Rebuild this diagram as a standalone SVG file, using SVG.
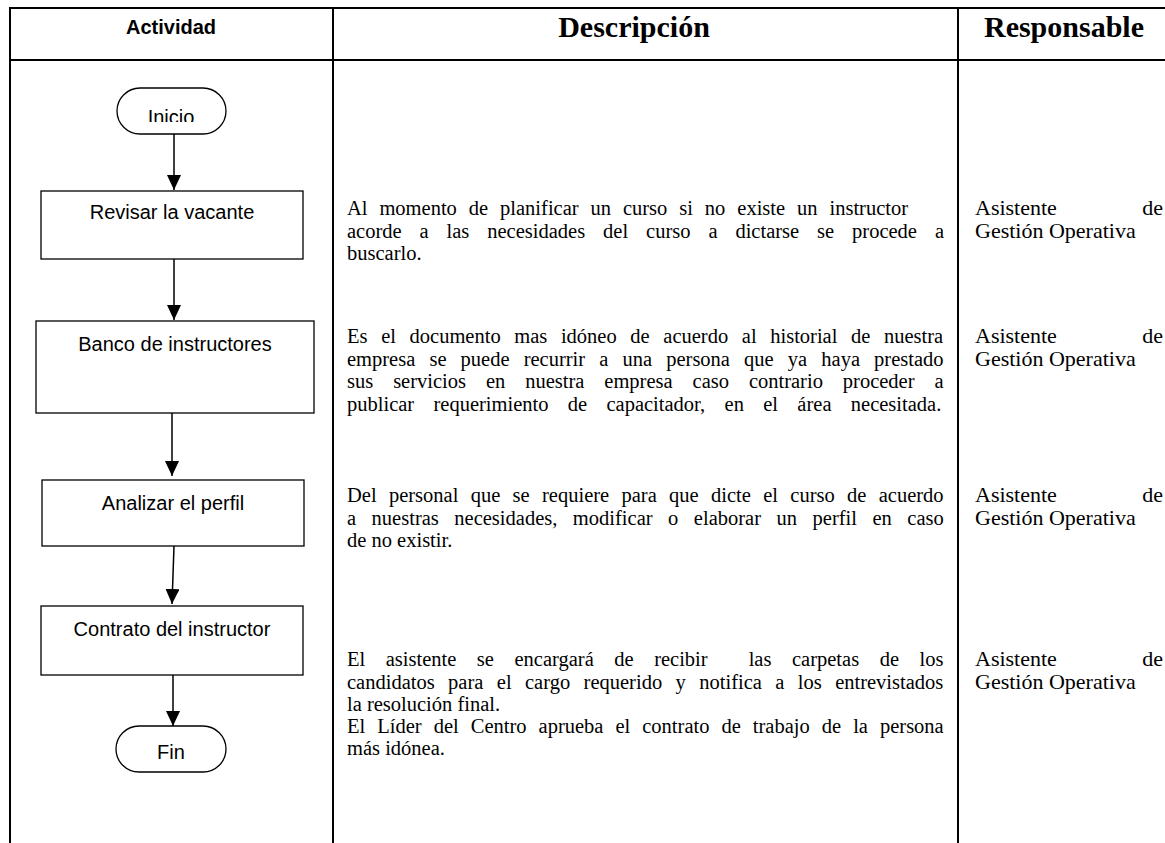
<svg xmlns="http://www.w3.org/2000/svg" width="1165" height="843" viewBox="0 0 1165 843">
  <style>
    .grid { stroke: #000; stroke-width: 2; fill: none; }
    .box { fill: #fff; stroke: #000; stroke-width: 1.3; }
    .lbl { font-family: "Liberation Sans", Arial, sans-serif; font-size: 20px; fill: #000; text-anchor: middle; }
    .hdr-a { font-family: "Liberation Sans", Arial, sans-serif; font-size: 20px; font-weight: bold; text-anchor: middle; }
    .hdr-t { font-family: "Liberation Serif", "Times New Roman", serif; font-size: 30px; font-weight: bold; text-anchor: middle; }
    .desc { font-family: "Liberation Serif", "Times New Roman", serif; font-size: 20.5px; fill: #000; }
    .resp { font-family: "Liberation Serif", "Times New Roman", serif; font-size: 22px; fill: #000; }
    .conn { stroke: #000; stroke-width: 1.5; fill: none; }
  </style>
  <defs>
    <marker id="arrow" viewBox="0 0 15 14" refX="15" refY="7" markerWidth="15" markerHeight="14" markerUnits="userSpaceOnUse" orient="auto">
      <path d="M0,0 L15,7 L0,14 Z" fill="#000"/>
    </marker>
    <clipPath id="clip-inicio">
      <rect x="117" y="88" width="109" height="34"/>
    </clipPath>
  </defs>

  <rect width="1165" height="843" fill="#fff"/>

  <!-- table grid -->
  <g id="table">
    <line class="grid" x1="10" y1="8" x2="1165" y2="8"/>
    <line class="grid" x1="10" y1="60" x2="1165" y2="60"/>
    <line class="grid" x1="10" y1="7" x2="10" y2="843"/>
    <line class="grid" x1="333" y1="7" x2="333" y2="843"/>
    <line class="grid" x1="958" y1="7" x2="958" y2="843"/>
    <text class="hdr-a" x="171" y="34">Actividad</text>
    <text class="hdr-t" x="634" y="37">Descripción</text>
    <text class="hdr-t" x="1064" y="37">Responsable</text>
  </g>

  <!-- connectors -->
  <g id="connectors">
    <line class="conn" x1="174" y1="134" x2="174" y2="190" marker-end="url(#arrow)"/>
    <line class="conn" x1="174" y1="259" x2="174" y2="320" marker-end="url(#arrow)"/>
    <line class="conn" x1="172" y1="411" x2="172" y2="476" marker-end="url(#arrow)"/>
    <line class="conn" x1="174" y1="546" x2="172" y2="604" marker-end="url(#arrow)"/>
    <line class="conn" x1="173" y1="675" x2="173" y2="726" marker-end="url(#arrow)"/>
  </g>

  <!-- flow nodes -->
  <g id="node-inicio">
    <rect class="box" x="117" y="88" width="109" height="46" rx="23" ry="23"/>
    <text class="lbl" x="171" y="124" clip-path="url(#clip-inicio)">Inicio</text>
  </g>
  <g id="node-revisar">
    <rect class="box" x="41" y="191" width="262" height="68"/>
    <text class="lbl" x="172" y="219">Revisar la vacante</text>
  </g>
  <g id="node-banco">
    <rect class="box" x="36" y="321" width="278" height="92"/>
    <text class="lbl" x="175" y="351">Banco de instructores</text>
  </g>
  <g id="node-analizar">
    <rect class="box" x="42" y="480" width="262" height="66"/>
    <text class="lbl" x="173" y="510">Analizar el perfil</text>
  </g>
  <g id="node-contrato">
    <rect class="box" x="41" y="606" width="262" height="69"/>
    <text class="lbl" x="172" y="636">Contrato del instructor</text>
  </g>
  <g id="node-fin">
    <rect class="box" x="116" y="726" width="110" height="46" rx="23" ry="23"/>
    <text class="lbl" x="171" y="759">Fin</text>
  </g>

  <!-- description column (justified lines use word spacing) -->
  <g id="descriptions" class="desc">
    <text x="347" y="215" word-spacing="6.8">Al momento de planificar un curso si no existe un instructor</text>
    <text x="347" y="238" word-spacing="12.8">acorde a las necesidades del curso a dictarse se procede a</text>
    <text x="347" y="260">buscarlo.</text>

    <text x="347" y="343" word-spacing="8.5">Es el documento mas idóneo de acuerdo al historial de nuestra</text>
    <text x="347" y="366" word-spacing="9.0">empresa se puede recurrir a una persona que ya haya prestado</text>
    <text x="347" y="388" word-spacing="14.8">sus servicios en nuestra empresa caso contrario proceder a</text>
    <text x="347" y="411" word-spacing="14.2">publicar requerimiento de capacitador, en el área necesitada.</text>

    <text x="347" y="502" word-spacing="7.2">Del personal que se requiere para que dicte el curso de acuerdo</text>
    <text x="347" y="525" word-spacing="10.4">a nuestras necesidades, modificar o elaborar un perfil en caso</text>
    <text x="347" y="547">de no existir.</text>

    <text x="347" y="666" word-spacing="15.4" xml:space="preserve">El asistente se encargará de recibir  las carpetas de los</text>
    <text x="347" y="689" word-spacing="8.3">candidatos para el cargo requerido y notifica a los entrevistados</text>
    <text x="347" y="711">la resolución final.</text>
    <text x="347" y="733" word-spacing="6.9">El Líder del Centro aprueba el contrato de trabajo de la persona</text>
    <text x="347" y="755">más idónea.</text>
  </g>

  <!-- responsible column -->
  <g id="responsables" class="resp">
    <text x="975" y="215">Asistente</text>
    <text x="1163" y="215" text-anchor="end">de</text>
    <text x="975" y="238">Gestión Operativa</text>

    <text x="975" y="343">Asistente</text>
    <text x="1163" y="343" text-anchor="end">de</text>
    <text x="975" y="366">Gestión Operativa</text>

    <text x="975" y="502">Asistente</text>
    <text x="1163" y="502" text-anchor="end">de</text>
    <text x="975" y="525">Gestión Operativa</text>

    <text x="975" y="666">Asistente</text>
    <text x="1163" y="666" text-anchor="end">de</text>
    <text x="975" y="689">Gestión Operativa</text>
  </g>
</svg>
